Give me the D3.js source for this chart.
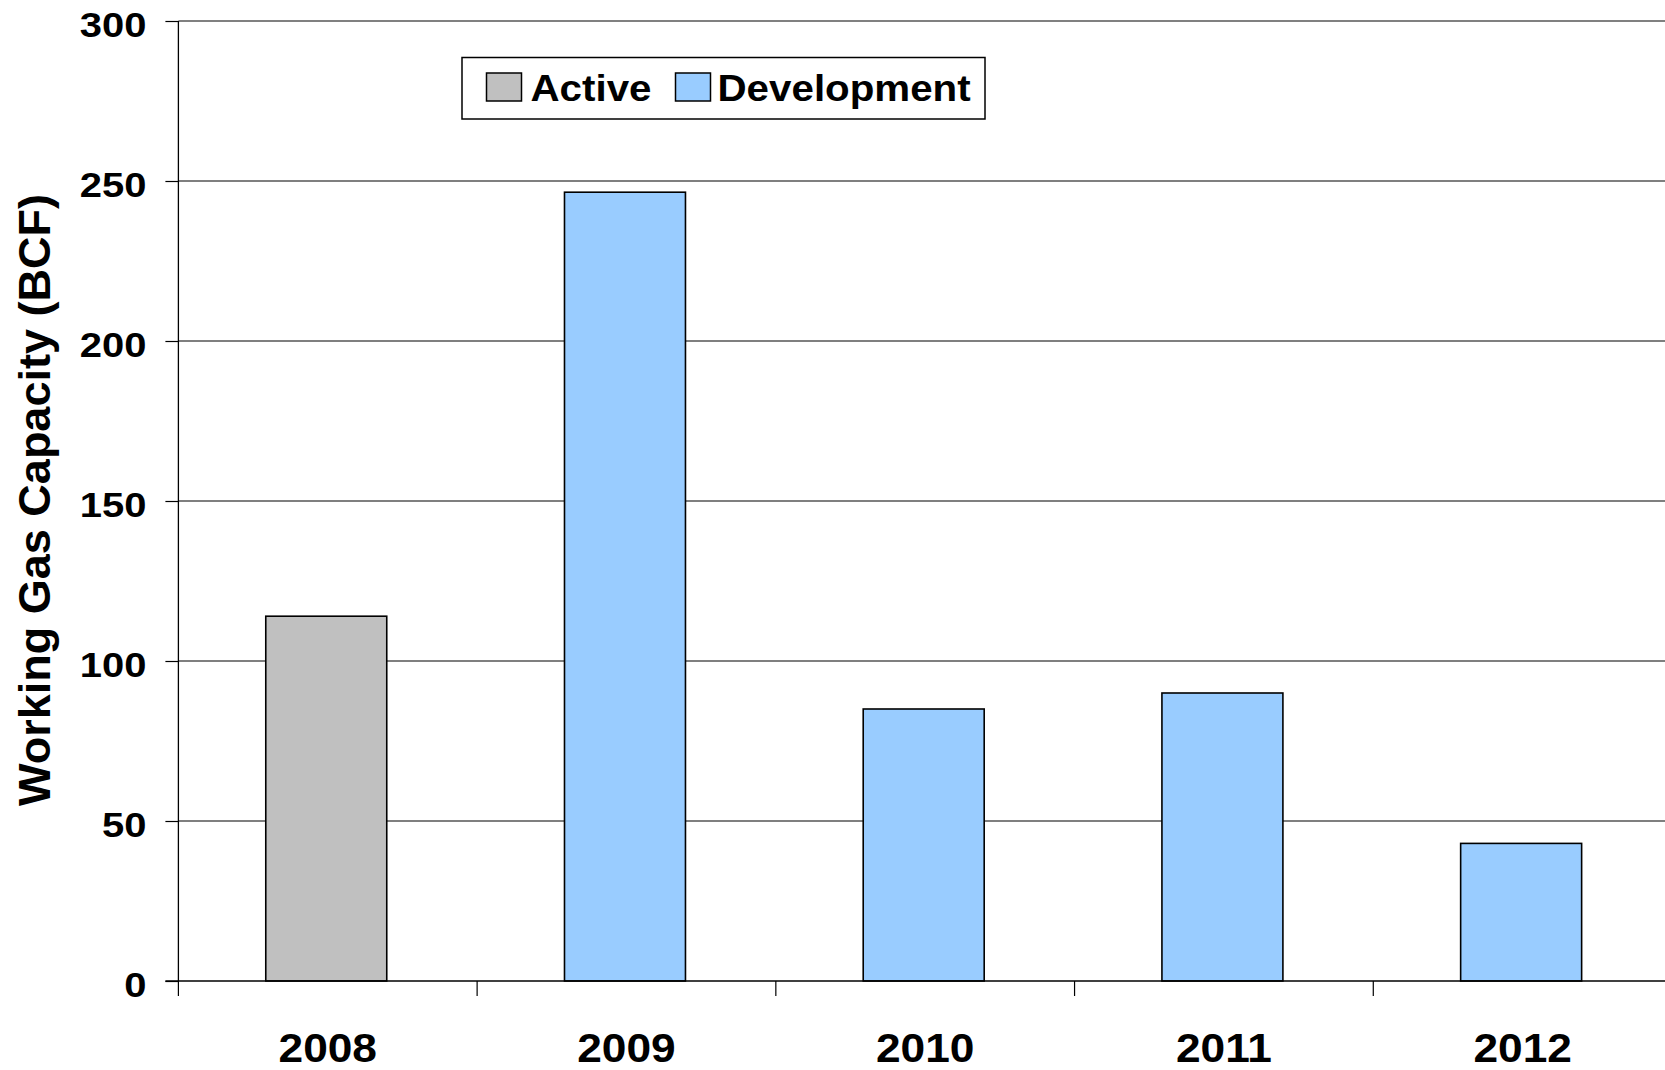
<!DOCTYPE html>
<html>
<head>
<meta charset="utf-8">
<script src="https://cdn.jsdelivr.net/npm/d3@7"></script>
<style>
  body { margin: 0; background: #fff; }
  svg { display: block; font-family: "Liberation Sans", Arial, sans-serif; font-weight: bold; }
</style>
</head>
<body>
<div id="chart"></div>
<script>
// Values
const years = ["2008", "2009", "2010", "2011", "2012"];
const capacity = [114, 246.5, 85, 90, 43];
const status = ["Active", "Development", "Development", "Development", "Development"];
const legendLabels = ["Active", "Development"];
const yTicks = [0, 50, 100, 150, 200, 250, 300];
const yTitle = "Working Gas Capacity (BCF)";

const config = {
  containerWidth: 1665,
  containerHeight: 1070,
  // plot area runs past the right edge, as in the reference
  margin: { top: 21, right: -7, bottom: 89, left: 178.4 },
  textStretch: 1.11, // horizontal text in the reference is a bit wider than Arial
};

const colors = { Active: "#C0C0C0", Development: "#99CCFF" };

const width = config.containerWidth - config.margin.left - config.margin.right;
const height = config.containerHeight - config.margin.top - config.margin.bottom;

const svg = d3
  .select("#chart")
  .append("svg")
  .attr("width", config.containerWidth)
  .attr("height", config.containerHeight);

const g = svg
  .append("g")
  .attr("transform", `translate(${config.margin.left},${config.margin.top})`);

const x = d3
  .scaleBand()
  .domain(years)
  .range([0, width])
  .paddingInner(0.595)
  .paddingOuter(0.2975);

const y = d3.scaleLinear().domain([0, 300]).range([height, 0]);

// Gridlines
g.append("g")
  .selectAll("line")
  .data(yTicks.filter((d) => d > 0))
  .join("line")
  .attr("x1", 0)
  .attr("x2", width)
  .attr("y1", (d) => y(d))
  .attr("y2", (d) => y(d))
  .attr("stroke", (d) => (d === 300 ? "#808080" : "#000"))
  .attr("stroke-width", (d) => (d === 300 ? 2 : 1.2));

// Bars
g.append("g")
  .selectAll("rect")
  .data(years)
  .join("rect")
  .attr("x", (d) => x(d) - 1.5)
  .attr("y", (d, i) => y(capacity[i]))
  .attr("width", x.bandwidth())
  .attr("height", (d, i) => height - y(capacity[i]))
  .attr("fill", (d, i) => colors[status[i]])
  .attr("stroke", "#000")
  .attr("stroke-width", 1.6);

// Y axis
const yAxis = d3.axisLeft(y).tickValues(yTicks).tickSize(13);

g.append("g")
  .attr("class", "y-axis")
  .call(yAxis)
  .call((sel) => sel.select(".domain").attr("stroke", "#000").attr("stroke-width", 1.3).attr("d", `M0,0V${height}`))
  .call((sel) => sel.selectAll(".tick line").attr("stroke", "#000").attr("stroke-width", 1.2))
  .call((sel) =>
    sel
      .selectAll(".tick text")
      .attr("fill", "#000")
      .attr("font-size", 36)
      .attr("font-weight", "bold")
      .attr("font-family", "Liberation Sans, Arial, sans-serif")
      .attr("x", 0)
      .attr("dy", "0.43em")
      .attr("transform", `translate(-32,0) scale(${config.textStretch},1)`)
  );

// X axis: ticks sit between the categories
const step = x.step();
const xTickPos = d3.range(years.length + 1).map((i) => i * step);

g.append("line")
  .attr("x1", -13)
  .attr("x2", width)
  .attr("y1", height)
  .attr("y2", height)
  .attr("stroke", "#000")
  .attr("stroke-width", 1.3);

g.append("g")
  .selectAll("line")
  .data(xTickPos)
  .join("line")
  .attr("x1", (d) => d)
  .attr("x2", (d) => d)
  .attr("y1", height)
  .attr("y2", height + 15)
  .attr("stroke", "#000")
  .attr("stroke-width", 1.2);

g.append("g")
  .selectAll("text")
  .data(years)
  .join("text")
  .attr(
    "transform",
    (d) => `translate(${x(d) + x.bandwidth() / 2},${height + 81}) scale(1.08,1)`
  )
  .attr("text-anchor", "middle")
  .attr("font-size", 41)
  .text((d) => d);

// Y axis title
svg
  .append("text")
  .attr("transform", "translate(50,500) rotate(-90)")
  .attr("text-anchor", "middle")
  .attr("font-size", 45)
  .text(yTitle);

// Legend
const legend = svg.append("g").attr("transform", "translate(462,57.5)");

legend
  .append("rect")
  .attr("width", 523)
  .attr("height", 61.5)
  .attr("fill", "#fff")
  .attr("stroke", "#000")
  .attr("stroke-width", 1.5);

const legendX = [24.5, 213.5];

const item = legend
  .selectAll(".legend-item")
  .data(legendLabels)
  .join("g")
  .attr("class", "legend-item")
  .attr("transform", (d, i) => `translate(${legendX[i]},15.5)`);

item
  .append("rect")
  .attr("width", 35)
  .attr("height", 28)
  .attr("fill", (d) => colors[d])
  .attr("stroke", "#000")
  .attr("stroke-width", 1.5);

item
  .append("text")
  .attr("transform", (d, i) => `translate(${i === 0 ? 44 : 42},27.5) scale(1.09,1)`)
  .attr("font-size", 37)
  .text((d) => d);
</script>
</body>
</html>
